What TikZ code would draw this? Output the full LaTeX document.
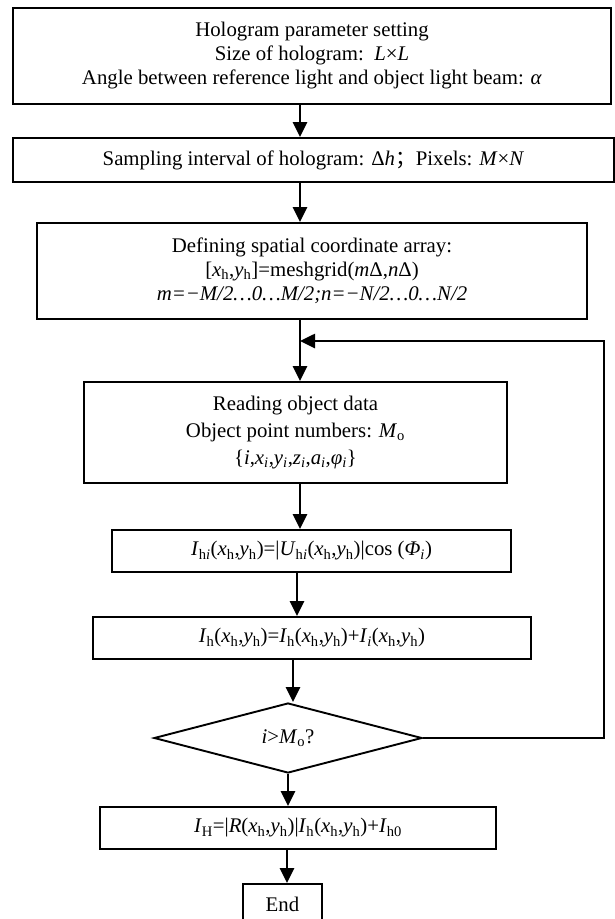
\documentclass[tikz,border=0pt]{standalone}
\usepackage{fontspec}
\setmainfont{Liberation Serif}
\newfontfamily\cjk{Noto Sans CJK SC}
\usetikzlibrary{arrows.meta, shapes.geometric}
\newcommand{\lo}[1]{\textsubscript{#1}}
\newcommand{\vi}[1]{\textit{#1}}

\begin{document}
\begin{tikzpicture}[x=1pt, y=-1pt,
    stepbox/.style={draw, line width=1.9pt, inner sep=0pt, align=center,
              font=\fontsize{20.8}{24}\selectfont},
    test/.style={stepbox, diamond},
    fleche/.style={-{Triangle[length=15pt, width=14pt]}, line width=2.6pt}]

  \useasboundingbox (0,0) rectangle (615,919);

  \node[stepbox, minimum width=598pt, minimum height=96pt] (param) at (312,56)
    {Hologram parameter setting\\
     Size of hologram:\ \ \vi{L}×\vi{L}\\
     Angle between reference light and object light beam: \vi{α}};
  \node[stepbox, minimum width=601pt, minimum height=44pt] (sample) at (313.5,160)
    {Sampling interval of hologram: Δ\vi{h}{\cjk ；}Pixels: \vi{M}×\vi{N}};
  \node[stepbox, minimum width=550pt, minimum height=96pt] (grid) at (312,271)
    {Defining spatial coordinate array:\\
     {[}\vi{x}\lo{h},\vi{y}\lo{h}]=meshgrid(\vi{m}Δ,\vi{n}Δ)\\
     \itshape m=−M/2…0…M/2;n=−N/2…0…N/2};
  \node[stepbox, minimum width=423pt, minimum height=101pt,
        font=\fontsize{20.8}{27}\selectfont] (read) at (295.5,432.5)
    {Reading object data\\
     Object point numbers: \vi{M}\lo{o}\\
     \{\vi{i},\vi{x}\lo{\vi{i}},\vi{y}\lo{\vi{i}},\vi{z}\lo{\vi{i}},\vi{a}\lo{\vi{i}},\vi{φ}\lo{\vi{i}}\}};
  \node[stepbox, minimum width=399pt, minimum height=42pt] (inten) at (311.5,551)
    {\vi{I}\lo{h\vi{i}}(\vi{x}\lo{h},\vi{y}\lo{h})=|\vi{U}\lo{h\vi{i}}(\vi{x}\lo{h},\vi{y}\lo{h})|cos (\vi{Φ}\lo{\vi{i}})};
  \node[stepbox, minimum width=438pt, minimum height=42pt] (somme) at (312,638)
    {\vi{I}\lo{h}(\vi{x}\lo{h},\vi{y}\lo{h})=\vi{I}\lo{h}(\vi{x}\lo{h},\vi{y}\lo{h})+\vi{I}\lo{\vi{i}}(\vi{x}\lo{h},\vi{y}\lo{h})};
  \node[test, minimum width=268pt, minimum height=70pt] (cond) at (288,738)
    {\vi{i}>\vi{M}\lo{o}?};
  \node[stepbox, minimum width=396pt, minimum height=42pt] (holo) at (298,828)
    {\vi{I}\lo{H}=|\vi{R}(\vi{x}\lo{h},\vi{y}\lo{h})|\vi{I}\lo{h}(\vi{x}\lo{h},\vi{y}\lo{h})+\vi{I}\lo{h0}};
  \node[stepbox, minimum width=79pt, minimum height=40pt] (fin) at (282.5,904)
    {End};

  % spine positions of the vertical arrows
  \coordinate (s1) at (300,0);
  \coordinate (s2) at (297,0);
  \coordinate (s3) at (293,0);
  \coordinate (s4) at (287,0);
  \coordinate (retour) at (604,341);
  \coordinate (jonction) at (300,341);

  \draw[fleche] (param.south -| s1) -- (sample.north -| s1);
  \draw[fleche] (sample.south -| s1) -- (grid.north -| s1);
  \draw[fleche] (grid.south -| s1) -- (read.north -| s1);
  \draw[fleche] (read.south -| s1) -- (inten.north -| s1);
  \draw[fleche] (inten.south -| s2) -- (somme.north -| s2);
  \draw[fleche] (somme.south -| s3) -- (cond.north -| s3);
  \draw[fleche] (cond.south) -- (holo.north -| cond.south);
  \draw[fleche] (holo.south -| s4) -- (fin.north -| s4);
  \draw[fleche] (cond.east) -| (retour) -- (jonction);
\end{tikzpicture}
\end{document}
